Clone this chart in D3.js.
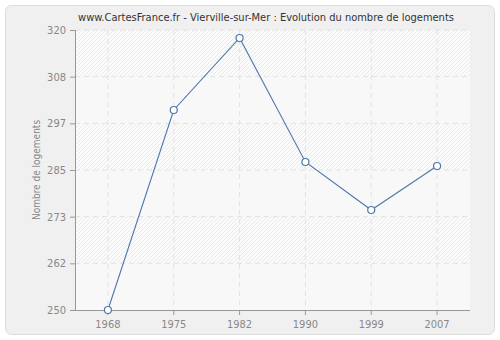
<!DOCTYPE html>
<html><head><meta charset="utf-8">
<script src="https://cdn.jsdelivr.net/npm/d3@7"></script>
<style>body{margin:0;background:#fff;}svg{display:block;}</style>
</head><body>
<script>
const title = "www.CartesFrance.fr - Vierville-sur-Mer : Evolution du nombre de logements";
const yLabel = "Nombre de logements";
const years = ["1968","1975","1982","1990","1999","2007"];
const values = [250, 300, 318, 287, 275, 286];
const yTicks = [250, 262, 273, 285, 297, 308, 320];
const yTickPos = [250, 250+70/6, 250+140/6, 285, 250+280/6, 250+350/6, 320];

const W = 500, H = 340;
const m = {left:75, right:30, top:30, bottom:30};
const FONT = "'DejaVu Sans Condensed', 'DejaVu Sans', sans-serif";
const svg = d3.select("body").append("svg").attr("width",W).attr("height",H);
const defs = svg.append("defs");
const pat = defs.append("pattern").attr("id","hatch").attr("patternUnits","userSpaceOnUse")
  .attr("width",4).attr("height",4);
pat.append("rect").attr("width",4).attr("height",4).attr("fill","#fbfbfb");
pat.append("path").attr("d","M-1,1 l2,-2 M0,4 l4,-4 M3,5 l2,-2").attr("stroke","#e6e6e6").attr("stroke-width",0.8);

svg.append("rect").attr("x",5.5).attr("y",5.5).attr("width",489).attr("height",329).attr("rx",6)
  .attr("fill","#f0f0f0").attr("stroke","#dcdcdc");

const x = d3.scaleBand().domain(years).range([m.left, W-m.right]);
const y = d3.scaleLinear().domain([250,320]).range([H-m.bottom, m.top]);

const g = svg.append("g");
g.append("rect").attr("x",m.left).attr("y",m.top).attr("width",W-m.right-m.left).attr("height",H-m.bottom-m.top).attr("fill","url(#hatch)");
for (let i=0;i<yTickPos.length-1;i+=2){
  g.append("rect").attr("x",m.left).attr("width",W-m.right-m.left)
    .attr("y",y(yTickPos[i+1])).attr("height",y(yTickPos[i])-y(yTickPos[i+1])).attr("fill","#f8f8f8");
}
g.selectAll(".hg").data(yTickPos.slice(1)).enter().append("line")
  .attr("x1",m.left).attr("x2",W-m.right).attr("y1",d=>y(d)).attr("y2",d=>y(d))
  .attr("stroke","#e2e2e2").attr("stroke-dasharray","5,4");
g.selectAll(".vg").data(years).enter().append("line")
  .attr("y1",m.top).attr("y2",H-m.bottom).attr("x1",d=>x(d)+x.bandwidth()/2).attr("x2",d=>x(d)+x.bandwidth()/2)
  .attr("stroke","#e2e2e2").attr("stroke-dasharray","5,4");

const yAxis = d3.axisLeft(y).tickValues(yTickPos).tickFormat((d,i)=>yTicks[i]).tickSize(5).tickPadding(4);
const ya = svg.append("g").attr("transform",`translate(${m.left},0)`).call(yAxis);
const xAxis = d3.axisBottom(x).tickSize(5).tickPadding(5);
const xa = svg.append("g").attr("transform",`translate(0,${H-m.bottom})`).call(xAxis);
[ya,xa].forEach(a=>{
  a.selectAll("path").attr("stroke","#999");
  a.selectAll("line").attr("stroke","#999");
  a.selectAll("text").attr("fill","#888").style("font-family",FONT).style("font-size","11px");
});
xa.select("path").attr("d",`M${m.left},0.5H${W-m.right}`);
ya.select("path").attr("d",`M0.5,${m.top}V${H-m.bottom}`);

const cx = d=>x(d)+x.bandwidth()/2;
const line = d3.line().x((d,i)=>cx(years[i])).y(d=>y(d));
svg.append("path").datum(values).attr("d",line).attr("fill","none").attr("stroke","#4f77aa").attr("stroke-width",1.1);
svg.selectAll(".pt").data(values).enter().append("circle")
  .attr("cx",(d,i)=>cx(years[i])).attr("cy",d=>y(d)).attr("r",3.5)
  .attr("fill","#fff").attr("stroke","#4f77aa").attr("stroke-width",1.2);

svg.append("text").attr("x",266).attr("y",21).attr("text-anchor","middle")
  .style("font-family",FONT).style("font-size","11px").attr("fill","#333").text(title);
svg.append("text").attr("transform","translate(40,170) rotate(-90)").attr("text-anchor","middle")
  .style("font-family",FONT).style("font-size","10px").attr("fill","#888").text(yLabel);
</script>
</body></html>
